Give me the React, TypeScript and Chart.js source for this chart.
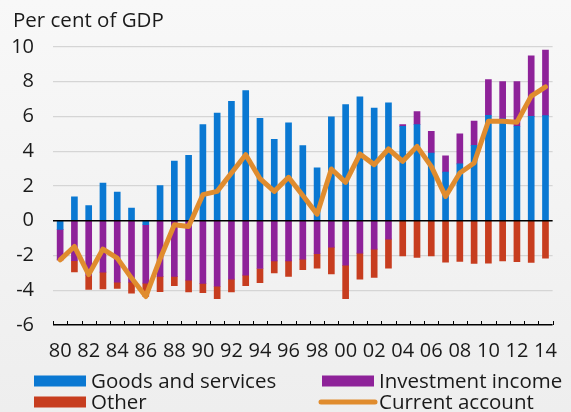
import { useEffect, useRef } from "react";
import { Chart, registerables } from "chart.js";

Chart.register(...registerables);

const categories = [
  "80", "81", "82", "83", "84", "85", "86", "87", "88", "89",
  "90", "91", "92", "93", "94", "95", "96", "97", "98", "99",
  "00", "01", "02", "03", "04", "05", "06", "07", "08", "09",
  "10", "11", "12", "13", "14",
];

const goodsAndServices = [
  -0.5, 1.38, 0.88, 2.17, 1.65, 0.73, -0.23, 2.02, 3.44, 3.77,
  5.53, 6.19, 6.88, 7.49, 5.9, 4.69, 5.63, 4.32, 3.04, 5.98,
  6.69, 7.13, 6.49, 6.78, 5.44, 5.53, 3.9, 2.8, 3.27, 4.34,
  6.07, 5.86, 5.44, 6.01, 6.05,
];

const investmentIncome = [
  -1.75, -2.3, -3.15, -2.96, -3.54, -3.54, -3.36, -3.2, -3.2, -3.42,
  -3.6, -3.77, -3.36, -3.13, -2.75, -2.31, -2.31, -2.21, -1.9, -1.52,
  -2.56, -1.86, -1.63, -1.06, 0.1, 0.75, 1.25, 0.94, 1.73, 1.4,
  2.06, 2.15, 2.57, 3.48, 3.77,
];

const other = [
  0, -0.65, -0.8, -0.96, -0.36, -0.63, -0.77, -0.88, -0.54, -0.67,
  -0.54, -0.71, -0.73, -0.61, -0.81, -0.69, -0.9, -0.61, -0.83, -1.54,
  -1.92, -1.5, -1.63, -1.67, -2.02, -2.11, -2.02, -2.38, -2.34, -2.46,
  -2.44, -2.31, -2.36, -2.4, -2.15,
];

const currentAccount = [
  -2.25, -1.48, -3.1, -1.63, -2.15, -3.3, -4.36, -2.2, -0.23, -0.33,
  1.5, 1.69, 2.75, 3.8, 2.42, 1.69, 2.5, 1.45, 0.38, 2.98,
  2.21, 3.84, 3.23, 4.13, 3.42, 4.28, 3.13, 1.4, 2.75, 3.32,
  5.73, 5.73, 5.67, 7.17, 7.7,
];

const seriesNames = ["Goods and services", "Investment income", "Other", "Current account"];
const title = "Per cent of GDP";

const FONT = "'Open Sans', sans-serif";
const TEXT = "#1a1a1a";
const BLUE = "#0a78d2";
const PURPLE = "#8e2299";
const RED = "#c73d1f";
const ORANGE = "#e08c2e";

const customPlugin = {
  id: "custom",
  afterDatasetDraw(chart: any, args: any) {
    if (args.index !== 0) return;
    const { ctx, chartArea, scales } = chart;
    const y0 = scales.y.getPixelForValue(0);
    ctx.save();
    ctx.strokeStyle = "#000";
    ctx.lineWidth = 1.5;
    ctx.beginPath();
    ctx.moveTo(chartArea.left, y0);
    ctx.lineTo(chartArea.right, y0);
    ctx.stroke();
    ctx.restore();
  },
  afterDraw(chart: any) {
    const { ctx, chartArea } = chart;
    const n = chart.data.labels.length;
    const w = (chartArea.right - chartArea.left) / n;
    ctx.save();
    // inward ticks on the bottom axis
    ctx.strokeStyle = "#000";
    ctx.lineWidth = 1;
    ctx.beginPath();
    for (let i = 0; i <= n; i++) {
      const x = Math.round(chartArea.left + i * w) + 0.5;
      ctx.moveTo(x, chartArea.bottom);
      ctx.lineTo(x, chartArea.bottom - 4);
    }
    ctx.stroke();
    // title
    ctx.fillStyle = TEXT;
    ctx.font = `20.5px ${FONT}`;
    ctx.textBaseline = "alphabetic";
    ctx.textAlign = "left";
    ctx.fillText(title, 13, 27);
    // legend
    const colX = [34, 322];
    const rowY = [381, 402];
    chart.data.datasets.forEach((ds: any, i: number) => {
      const x = colX[i % 2];
      const y = rowY[Math.floor(i / 2)];
      if (ds.type === "line") {
        ctx.strokeStyle = ds.borderColor;
        ctx.lineWidth = 5;
        ctx.lineCap = "round";
        ctx.beginPath();
        ctx.moveTo(x - 1, y);
        ctx.lineTo(x + 53, y);
        ctx.stroke();
      } else {
        ctx.fillStyle = ds.backgroundColor;
        ctx.fillRect(x, y - 5.5, 52, 11);
      }
      ctx.fillStyle = TEXT;
      ctx.fillText(ds.label, x + 57, y + 7);
    });
    ctx.restore();
  },
};

export default function App() {
  const canvasRef = useRef<HTMLCanvasElement | null>(null);

  useEffect(() => {
    if (!canvasRef.current) return;
    const chart = new Chart(canvasRef.current, {
      type: "bar",
      data: {
        labels: categories,
        datasets: [
          {
            type: "bar",
            label: seriesNames[0],
            data: goodsAndServices,
            backgroundColor: BLUE,
            barThickness: 6,
            stack: "bars",
            order: 1,
          },
          {
            type: "bar",
            label: seriesNames[1],
            data: investmentIncome,
            backgroundColor: PURPLE,
            barThickness: 6,
            stack: "bars",
            order: 1,
          },
          {
            type: "bar",
            label: seriesNames[2],
            data: other,
            backgroundColor: RED,
            barThickness: 6,
            stack: "bars",
            order: 1,
          },
          {
            type: "line",
            label: seriesNames[3],
            data: currentAccount,
            borderColor: ORANGE,
            backgroundColor: ORANGE,
            borderWidth: 5,
            pointRadius: 0,
            tension: 0,
            borderJoinStyle: "round",
            borderCapStyle: "round",
            stack: "line",
            order: 0,
          } as any,
        ],
      },
      options: {
        responsive: false,
        animation: false,
        devicePixelRatio: 1,
        layout: { padding: { left: 0, right: 6, top: 47, bottom: 50 } },
        plugins: {
          legend: { display: false },
          tooltip: { enabled: false },
          title: { display: false },
        },
        scales: {
          x: {
            stacked: true,
            offset: true,
            grid: { display: false, drawTicks: false },
            border: { display: false },
            ticks: {
              autoSkip: false,
              maxRotation: 0,
              padding: 14,
              color: TEXT,
              font: { family: FONT, size: 20 },
              callback: (_v: any, i: number) => (i % 2 === 0 ? categories[i] : ""),
            },
            afterFit: (scale: any) => {
              scale.height = 37;
            },
          },
          y: {
            stacked: true,
            min: -6,
            max: 10,
            grid: {
              drawTicks: false,
              color: (c: any) => (c.tick && c.tick.value === -6 ? "#000" : "#d5d5d5"),
              lineWidth: (c: any) => (c.tick && c.tick.value === -6 ? 1.5 : 1.3),
            },
            border: { display: false },
            ticks: {
              stepSize: 2,
              padding: 19,
              color: TEXT,
              font: { family: FONT, size: 20 },
            },
            afterFit: (scale: any) => {
              scale.width = 53;
            },
          },
        },
      },
      plugins: [customPlugin],
    });
    return () => chart.destroy();
  }, []);

  return (
    <div
      style={{
        position: "fixed",
        left: 0,
        top: 0,
        width: 571,
        height: 412,
        background: "linear-gradient(#f8f8f8, #eeeeee)",
      }}
    >
      <canvas ref={canvasRef} width={571} height={412} style={{ display: "block" }} />
    </div>
  );
}
